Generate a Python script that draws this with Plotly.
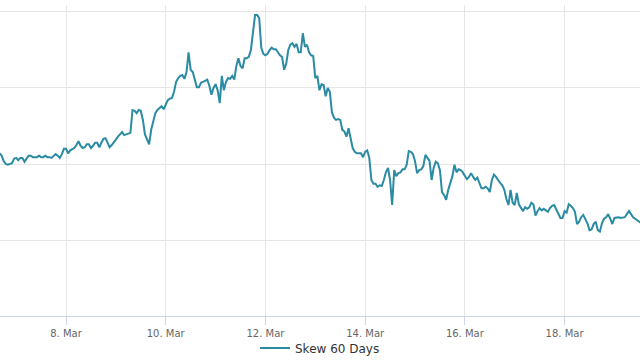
import pandas as pd
import plotly.graph_objects as go

series_name = "Skew 60 Days"
start_time = "2024-03-06 16:00"
skew_values = [
    21.4, 21.1, 20.4, 20.0, 19.9, 20.0, 20.1, 20.7, 20.8, 20.5,
    20.8, 20.8, 20.3, 20.7, 21.1, 21.1, 20.9, 20.9, 20.9, 21.1,
    20.9, 20.9, 21.1, 20.9, 20.9, 20.8, 21.1, 21.3, 21.1, 20.8,
    21.3, 22.0, 22.0, 21.4, 21.8, 22.0, 22.1, 22.5, 23.0, 22.4,
    22.1, 22.2, 22.6, 22.6, 22.1, 22.4, 22.8, 22.8, 22.2, 22.8,
    23.3, 23.4, 22.8, 22.2, 22.5, 22.8, 23.2, 23.6, 23.9, 24.2,
    23.8, 23.9, 24.1, 24.1, 27.1, 27.0, 26.7, 27.1, 27.0, 25.8,
    23.9, 23.2, 22.6, 24.5, 25.8, 26.7, 27.1, 27.4, 27.6, 27.2,
    27.8, 28.4, 28.6, 28.7, 29.5, 30.8, 31.3, 31.6, 31.7, 31.2,
    32.1, 34.7, 32.4, 32.1, 31.1, 30.1, 30.1, 30.7, 30.8, 30.9,
    31.1, 30.3, 29.1, 30.0, 30.5, 29.7, 28.0, 31.6, 29.7, 30.8,
    31.3, 31.2, 31.6, 31.1, 32.9, 33.9, 32.9, 32.6, 33.9, 33.9,
    34.1, 35.0, 37.0, 39.6, 39.6, 39.2, 35.3, 34.5, 34.3, 34.5,
    35.0, 35.3, 35.1, 35.1, 34.7, 34.3, 34.1, 32.4, 33.2, 35.0,
    35.7, 35.9, 35.4, 35.8, 34.7, 34.7, 37.2, 35.4, 35.7, 34.7,
    34.3, 34.2, 31.3, 31.6, 29.7, 30.5, 30.4, 28.9, 30.0, 29.5,
    26.8, 26.1, 25.8, 25.9, 25.8, 24.5, 24.3, 23.6, 24.7, 23.4,
    22.1, 21.6, 21.4, 21.4, 21.4, 20.9, 21.6, 21.8, 20.8, 17.9,
    17.4, 17.4, 17.0, 17.2, 17.1, 17.9, 18.9, 19.5, 17.9, 14.6,
    19.2, 18.4, 18.8, 18.9, 19.3, 19.3, 19.9, 21.7, 21.6, 21.3,
    20.4, 18.8, 19.2, 19.3, 19.7, 21.2, 20.7, 20.4, 17.9, 19.5,
    20.3, 20.1, 19.2, 16.3, 15.9, 15.3, 16.6, 17.4, 18.4, 19.9,
    18.9, 19.3, 19.2, 18.9, 18.4, 18.0, 18.3, 18.8, 18.3, 17.9,
    18.2, 17.6, 16.8, 16.8, 17.0, 16.8, 16.3, 17.9, 18.6, 18.3,
    17.8, 17.5, 17.2, 16.6, 15.4, 14.6, 16.6, 14.9, 14.6, 16.2,
    14.7, 14.3, 13.8, 14.3, 14.1, 14.3, 14.9, 14.7, 13.2, 13.8,
    14.2, 13.9, 14.1, 13.9, 13.7, 14.2, 14.5, 14.6, 14.1, 13.4,
    12.9, 12.9, 13.8, 13.6, 14.7, 14.5, 14.2, 13.7, 12.1, 12.4,
    13.0, 13.3, 12.8, 12.2, 11.3, 11.4, 12.1, 12.4, 11.3, 11.1,
    12.2, 12.8, 13.0, 13.4, 12.8, 12.1, 12.9, 13.0, 13.0, 12.9,
    13.0, 13.0, 13.4, 13.8, 13.4, 13.0, 12.8, 12.6, 12.4, 12.2,
]
times = pd.date_range(start_time, periods=len(skew_values), freq="h")

x_range = ["2024-03-06 16:13", "2024-03-19 12:19"]
y_range = [0, 40.92]

fig = go.Figure()
fig.add_trace(go.Scatter(
    x=times, y=skew_values, mode="lines", name=series_name,
    line=dict(color="#2b8ba3", width=2),
))

fig.update_layout(
    width=640, height=360,
    margin=dict(l=0, r=0, t=5, b=44, autoexpand=False),
    paper_bgcolor="white", plot_bgcolor="white",
    font=dict(family="DejaVu Sans", color="#333333"),
    showlegend=True,
    legend=dict(orientation="h", x=0.5, xanchor="center", y=-0.103, yanchor="middle",
                font=dict(size=12, color="#333333"), bgcolor="rgba(0,0,0,0)"),
    xaxis=dict(
        type="date", range=x_range, automargin=False,
        tick0="2024-03-08", dtick=2 * 86400000, tickformat="%-d. %b",
        showgrid=True, gridcolor="#e6e6e6", gridwidth=1,
        showline=True, linecolor="#ccd6eb", linewidth=1,
        ticks="outside", ticklen=8, tickcolor="#ccd6eb",
        tickfont=dict(size=10, color="#666666"),
    ),
    yaxis=dict(
        range=y_range, tick0=0, dtick=10, automargin=False,
        showgrid=True, gridcolor="#e6e6e6", gridwidth=1,
        showticklabels=False, zeroline=False, showline=False, ticks="",
    ),
)

fig.write_html(
    "out.html",
    config={"displayModeBar": False},
    post_script="document.body.style.margin='0';document.body.style.padding='0';",
)
